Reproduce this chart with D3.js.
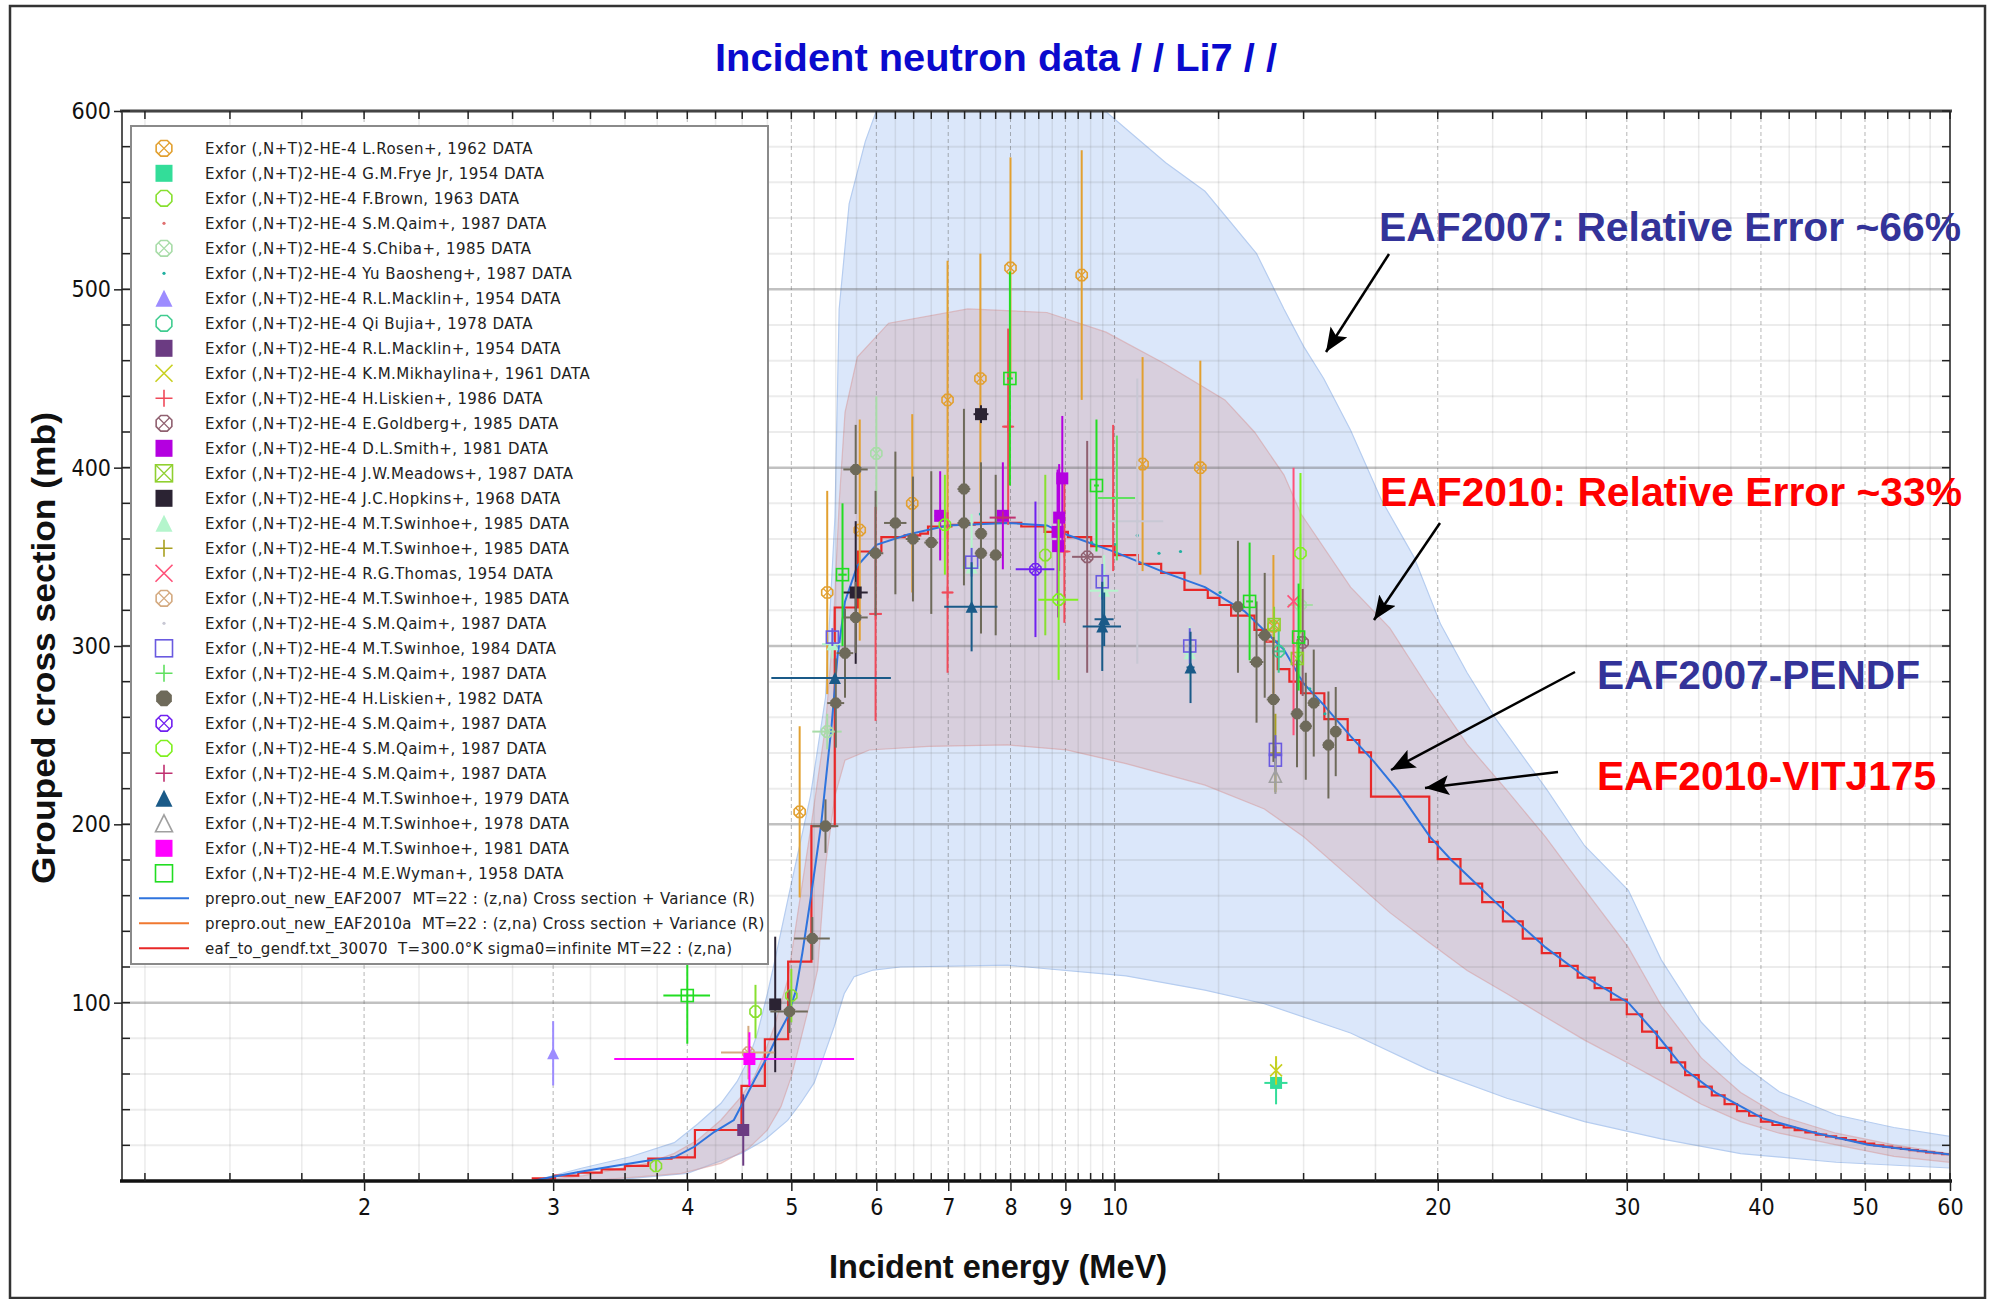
<!DOCTYPE html>
<html>
<head>
<meta charset="utf-8">
<script src="https://cdn.jsdelivr.net/npm/d3@7"></script>
<style>
  html, body { margin: 0; padding: 0; background: #fff; }
  svg { display: block; }
  .tick text { font-family: "Liberation Sans Narrow", "DejaVu Sans Condensed", "Liberation Sans", Arial, sans-serif; }
</style>
</head>
<body>
<svg id="chart" width="1993" height="1299"></svg>
<script>
// ---- axis ticks ----
const xTickValues = [2, 3, 4, 5, 6, 7, 8, 9, 10, 20, 30, 40, 50, 60];
const xMinorTicks = [1.25, 1.5, 1.75, 2.25, 2.5, 2.75, 3.25, 3.5, 3.75, 4.25, 4.5, 4.75,
  5.25, 5.5, 5.75, 6.25, 6.5, 6.75, 7.25, 7.5, 7.75, 8.25, 8.5, 8.75, 9.25, 9.5, 9.75,
  12.5, 15, 17.5, 22.5, 25, 27.5, 32.5, 35, 37.5, 42.5, 45, 47.5, 52.5, 55, 57.5];
const yTickValues = [100, 200, 300, 400, 500, 600];
const yMinorTicks = [20, 40, 60, 80, 120, 140, 160, 180, 220, 240, 260, 280, 320, 340, 360, 380,
  420, 440, 460, 480, 520, 540, 560, 580];

// ---- EAF2007 pointwise curve (MeV, mb) ----
const eaf2007 = [[2.87, 0], [3.0, 2.4], [3.18, 5.2], [3.42, 8.4], [3.67, 11.4], [3.89, 13.3], [4.06, 19.2],
  [4.24, 27.6], [4.42, 34.2], [4.52, 45.4], [4.62, 56.6], [4.75, 69.7], [4.85, 81], [4.96, 92], [5.05, 107],
  [5.12, 128], [5.21, 158], [5.33, 200], [5.45, 255], [5.52, 294], [5.61, 325], [5.76, 345], [6.0, 356.7],
  [6.42, 362.5], [6.99, 367.6], [7.95, 369], [8.65, 367.6], [9.02, 362.5], [10.0, 352.8], [11.16, 341],
  [12.14, 333], [13.21, 319.6], [14.38, 298], [15.0, 279], [15.66, 267], [16.59, 249.5], [17.45, 235],
  [18.35, 219], [19.67, 193], [20.59, 180], [22.0, 163.5], [23.18, 150.5], [25.2, 131], [27.4, 114.7],
  [30.1, 100], [32.0, 82], [33.96, 62.6], [36.3, 49.6], [40.2, 35], [45.1, 26.8], [50.3, 20.3], [60, 14.8]];

// ---- uncertainty bands ----
const band2007Upper = [[2.87, 0], [3.18, 7], [3.54, 13.6], [3.89, 21.5], [4.09, 32], [4.30, 43.6], [4.45, 55.7],
  [4.56, 68], [4.65, 83], [4.75, 105], [4.82, 122], [4.98, 162], [5.21, 216], [5.38, 271], [5.49, 372],
  [5.54, 489], [5.66, 548], [5.86, 583], [6.0, 600], [9.8, 600], [11.16, 571], [12.14, 555], [13.56, 520],
  [14.38, 489], [15.0, 468], [15.66, 450], [16.59, 421], [17.72, 382], [19.0, 350], [20.13, 312], [21.3, 285],
  [22.6, 260], [25.3, 219], [27.4, 188], [30.1, 163], [32.3, 124], [35.2, 89], [38.3, 66], [41.6, 50],
  [47, 37], [53.2, 30], [60, 25]];
const band2007Lower = [[2.87, 0], [3.49, 1], [4.0, 4.3], [4.24, 10], [4.49, 15.5], [4.72, 23], [4.96, 34],
  [5.10, 43.6], [5.25, 55], [5.36, 70], [5.48, 86.5], [5.60, 105], [5.72, 114.6], [5.96, 118.3], [6.32, 120],
  [7.95, 121], [10.25, 115], [12.14, 107], [13.79, 99.4], [16.59, 83], [19.58, 62.6], [23.2, 46.4],
  [27.4, 33.3], [32.3, 23.6], [38.3, 15.4], [47, 10.5], [60, 7.3]];
const band2010Upper = [[2.87, 0], [3.2, 3], [3.67, 9.9], [3.89, 15.5], [4.09, 23], [4.30, 34.2], [4.49, 47.3],
  [4.62, 58.5], [4.72, 71.6], [4.82, 86.5], [4.96, 112.7], [5.21, 197], [5.38, 255], [5.47, 310], [5.54, 380],
  [5.61, 431], [5.76, 462], [6.16, 481], [7.30, 489], [8.65, 487], [9.82, 476], [11.16, 458], [12.67, 438],
  [13.5, 420], [14.38, 396], [14.92, 374], [16.59, 333], [18.05, 310], [19.58, 277], [21.3, 245], [23.2, 219],
  [25.2, 193], [27.4, 163.5], [30.1, 131], [32.3, 98.4], [35.2, 69], [38.3, 49.6], [41.6, 36.6], [47, 26.8],
  [53.2, 20.3], [60, 15.4]];
const band2010Lower = [[2.87, 0], [3.3, 0.5], [3.95, 4.3], [4.30, 9.9], [4.56, 18.3], [4.75, 28.6], [4.89, 41.7],
  [5.0, 58.5], [5.10, 79], [5.22, 103.4], [5.29, 118.3], [5.38, 177], [5.49, 216], [5.61, 236], [5.91, 241.7],
  [6.71, 243.7], [7.95, 244.5], [9.02, 241.7], [10.25, 234], [12.14, 222], [13.79, 208.6], [15.0, 193],
  [16.59, 170], [18.05, 150.5], [19.58, 134.3], [21.3, 118], [23.2, 105], [25.2, 92], [27.4, 79], [30.1, 66],
  [32.3, 56], [35.2, 43], [38.3, 33.3], [41.6, 26.8], [47, 20.3], [53.2, 13.8], [60, 10.5]];

// ---- EAF2010 group-wise values (VITAMIN-J+ bounds, MeV / mb) ----
const groupBounds = [2.865, 3.012, 3.166, 3.329, 3.499, 3.679, 3.867, 4.066, 4.274, 4.493, 4.724, 4.966,
  5.220, 5.488, 5.769, 6.065, 6.376, 6.592, 6.703, 7.047, 7.408, 7.788, 8.187, 8.607, 9.048, 9.512, 10.0,
  10.513, 11.052, 11.618, 12.214, 12.523, 12.840, 13.499, 13.840, 14.191, 14.550, 14.918, 15.683, 16.487,
  16.905, 17.333, 19.640, 20, 21, 22, 23, 24, 25, 26, 27, 28, 29, 30, 31, 32, 33, 34, 35, 36, 37, 38, 39,
  40, 41, 42, 43, 44, 45, 46, 47, 48, 49, 50, 51, 52, 53, 54, 55, 56, 57, 58, 59, 60];
const groupXs = [1.5, 3.0, 4.7, 6.5, 8.5, 12.5, 13.3, 28.6, 28.6, 53.3, 79.5, 123, 199, 321.6, 353, 361, 362,
  363, 367, 368, 369, 369, 367, 364, 361, 356, 351, 346, 341, 331.5, 327, 323, 317, 309, 302.5, 287, 280,
  273.5, 259, 247.3, 240.4, 215.5, 190.2,
  180.5, 166.8, 156.4, 145.6, 135.9, 127.8, 120.6, 114, 108.2, 101.7,
  93.5, 83.8, 74.7, 66.5, 59.4, 52.9, 48, 43.1, 39.2, 36.6,
  33.3, 31.4, 30, 28.5, 27.3, 26, 25, 24, 23, 22,
  21, 20, 19.3, 18.6, 18, 17.3, 16.7, 16.1, 15.6, 15];

// ---- EXFOR points: [energy MeV, xs mb, dxs, dE] ----
const rosen1962 = [[5.09, 207, 48, 0], [5.40, 330, 57, 0], [5.79, 365, 62, 0], [6.48, 380, 50, 0], [6.99, 438, 78, 0],
  [7.50, 450, 70, 0], [8.00, 512, 62, 0], [9.32, 508, 70, 0], [10.62, 402, 60, 0], [12.02, 400, 60, 0], [14.06, 311, 40, 0]];
const frye1954 = [[14.14, 55, 12, 0.35]];
const brown1963 = [[3.74, 8.4, 3, 0], [4.63, 95, 15, 0], [5.0, 104, 15, 0], [8.62, 351, 45, 0]];
const qaimDots1 = [[13.9, 303, 0, 0], [8.9, 366, 0, 0]];
const chiba1985 = [[5.40, 252, 10, 0.17], [6.0, 408, 32, 0], [14.9, 323, 40, 0.4]];
const yu1987 = [[7.5, 374, 0, 0], [9.52, 358, 0, 0], [10.0, 357, 0, 0], [10.5, 362, 0, 0], [11.0, 352, 0, 0],
  [11.52, 353, 0, 0], [12.54, 330, 0, 0], [15.2, 276, 0, 0], [15.7, 262, 0, 0], [16.1, 250, 0, 0]];
const macklinTri1954 = [[3.0, 71.6, 18, 0]];
const qiBujia1978 = [[14.22, 297, 12, 0.2]];
const macklinSq1954 = [[4.51, 28.6, 20, 0]];
const mikhaylina1961 = [[14.14, 62, 8, 0]];
const liskien1986 = [[5.99, 318, 60, 0.08], [6.99, 330, 45, 0.08], [7.96, 423, 55, 0.08], [8.98, 353, 40, 0.08], [9.97, 383, 41, 0.08]];
const goldberg1985 = [[9.43, 350, 65, 0.3], [14.97, 302, 30, 0]];
const smith1981 = [[6.88, 373, 25, 0.08], [7.87, 373, 30, 0.1], [8.94, 394, 35, 0.1], [8.88, 372, 30, 0.08],
  [8.85, 364, 35, 0.08], [8.86, 356, 40, 0.08]];
const meadows1987 = [[14.08, 312, 10, 0], [14.8, 293, 10, 0]];
const hopkins1968 = [[4.83, 99, 38, 0.05], [5.74, 330, 40, 0.15], [7.51, 430, 5, 0.12]];
const swinhoeTri1985 = [[5.46, 301, 8, 0.12], [7.36, 344, 30, 0.15], [9.78, 331, 20, 0.3], [11.75, 296, 15, 0.15]];
const swinhoePlus1985 = [[14.12, 240, 22, 0]];
const thomas1954 = [[14.68, 325, 75, 0]];
const swinhoeCx1985 = [[4.56, 72, 15, 0.26]];
const qaimDots2 = [[10.5, 370, 80, 0.6]];
const swinhoe1984 = [[5.46, 305, 5, 0], [7.36, 347, 8, 0], [9.74, 336, 10, 0], [11.75, 300, 10, 0], [14.12, 242, 8, 0], [14.12, 236, 8, 0]];
const qaimPlusGreen = [[10.05, 383, 35, 0.4]];
const liskien1982 = [[4.98, 95, 12, 0.2], [5.23, 136, 12, 0.2], [5.38, 199, 15, 0.15], [5.50, 268, 25, 0.1],
  [5.61, 296, 25, 0.1], [5.74, 316, 20, 0.15], [5.74, 399, 25, 0.15], [5.99, 352, 35, 0.1], [6.25, 369, 40, 0.15],
  [6.49, 360, 35, 0.1], [6.75, 358, 40, 0.1], [7.24, 388, 45, 0.1], [7.24, 369, 35, 0.1], [7.51, 363, 40, 0.1],
  [7.51, 352, 45, 0.1], [7.75, 351, 45, 0.1], [13.03, 322, 37, 0.2], [13.56, 291, 34, 0.2], [13.80, 306, 35, 0.2],
  [14.06, 270, 35, 0.2], [14.79, 262, 30, 0.2], [15.07, 255, 30, 0.2], [15.33, 268, 30, 0.2], [15.82, 244.5, 30, 0.2],
  [16.07, 252, 25, 0.2]];
const qaimCx1987 = [[8.44, 343, 38, 0.35]];
const qaimOct1987 = [[6.95, 368, 28, 0], [8.87, 326, 45, 0.38], [14.9, 352, 45, 0]];
const qaimPlusPink = [[7.87, 372, 0, 0.22]];
const swinhoe1979 = [[5.49, 282, 0, 0.7], [7.36, 322, 25, 0.42], [9.74, 311, 25, 0.4], [9.78, 315, 15, 0.2], [11.77, 288, 20, 0.1]];
const swinhoe1978 = [[14.12, 227, 10, 0]];
const swinhoe1981 = [[4.57, 68.4, 15, 1.15]];
const wyman1958 = [[4.0, 104, 27, 0.2], [5.58, 340, 40, 0.05], [7.99, 450, 60, 0.05], [9.62, 390, 37, 0.05],
  [13.36, 325, 33, 0.1], [14.84, 305, 30, 0.05]];

const exforLabels = [
  'Exfor (,N+T)2-HE-4 L.Rosen+, 1962 DATA', 'Exfor (,N+T)2-HE-4 G.M.Frye Jr, 1954 DATA',
  'Exfor (,N+T)2-HE-4 F.Brown, 1963 DATA', 'Exfor (,N+T)2-HE-4 S.M.Qaim+, 1987 DATA',
  'Exfor (,N+T)2-HE-4 S.Chiba+, 1985 DATA', 'Exfor (,N+T)2-HE-4 Yu Baosheng+, 1987 DATA',
  'Exfor (,N+T)2-HE-4 R.L.Macklin+, 1954 DATA', 'Exfor (,N+T)2-HE-4 Qi Bujia+, 1978 DATA',
  'Exfor (,N+T)2-HE-4 R.L.Macklin+, 1954 DATA', 'Exfor (,N+T)2-HE-4 K.M.Mikhaylina+, 1961 DATA',
  'Exfor (,N+T)2-HE-4 H.Liskien+, 1986 DATA', 'Exfor (,N+T)2-HE-4 E.Goldberg+, 1985 DATA',
  'Exfor (,N+T)2-HE-4 D.L.Smith+, 1981 DATA', 'Exfor (,N+T)2-HE-4 J.W.Meadows+, 1987 DATA',
  'Exfor (,N+T)2-HE-4 J.C.Hopkins+, 1968 DATA', 'Exfor (,N+T)2-HE-4 M.T.Swinhoe+, 1985 DATA',
  'Exfor (,N+T)2-HE-4 M.T.Swinhoe+, 1985 DATA', 'Exfor (,N+T)2-HE-4 R.G.Thomas, 1954 DATA',
  'Exfor (,N+T)2-HE-4 M.T.Swinhoe+, 1985 DATA', 'Exfor (,N+T)2-HE-4 S.M.Qaim+, 1987 DATA',
  'Exfor (,N+T)2-HE-4 M.T.Swinhoe, 1984 DATA', 'Exfor (,N+T)2-HE-4 S.M.Qaim+, 1987 DATA',
  'Exfor (,N+T)2-HE-4 H.Liskien+, 1982 DATA', 'Exfor (,N+T)2-HE-4 S.M.Qaim+, 1987 DATA',
  'Exfor (,N+T)2-HE-4 S.M.Qaim+, 1987 DATA', 'Exfor (,N+T)2-HE-4 S.M.Qaim+, 1987 DATA',
  'Exfor (,N+T)2-HE-4 M.T.Swinhoe+, 1979 DATA', 'Exfor (,N+T)2-HE-4 M.T.Swinhoe+, 1978 DATA',
  'Exfor (,N+T)2-HE-4 M.T.Swinhoe+, 1981 DATA', 'Exfor (,N+T)2-HE-4 M.E.Wyman+, 1958 DATA'];
const exforSets = [rosen1962, frye1954, brown1963, qaimDots1, chiba1985, yu1987, macklinTri1954, qiBujia1978,
  macklinSq1954, mikhaylina1961, liskien1986, goldberg1985, smith1981, meadows1987, hopkins1968, swinhoeTri1985,
  swinhoePlus1985, thomas1954, swinhoeCx1985, qaimDots2, swinhoe1984, qaimPlusGreen, liskien1982, qaimCx1987,
  qaimOct1987, qaimPlusPink, swinhoe1979, swinhoe1978, swinhoe1981, wyman1958];
const lineLabels = [
  'prepro.out_new_EAF2007  MT=22 : (z,na) Cross section + Variance (R)',
  'prepro.out_new_EAF2010a  MT=22 : (z,na) Cross section + Variance (R)',
  'eaf_to_gendf.txt_30070  T=300.0\u00b0K sigma0=infinite MT=22 : (z,na)'];

// ---- styles ----
const exforShapes = ['octX', 'square', 'oct', 'dot', 'octX', 'dot', 'tri', 'oct', 'square', 'cross', 'plus', 'octX',
  'square', 'squareX', 'square', 'tri', 'plus', 'cross', 'octX', 'dot', 'squareOpen', 'plus', 'octFill', 'octX',
  'oct', 'plus', 'tri', 'triOpen', 'square', 'squareOpen'];
const exforColors = ['#e2a030', '#33dd99', '#88e030', '#e07070', '#a8dca8', '#20b0a0', '#9d8cff', '#40cc90',
  '#6b3b82', '#c8d020', '#f04a5a', '#906070', '#b400e0', '#90d030', '#2b2333', '#b4f5cc', '#a8a020', '#ff5078',
  '#d4aa80', '#c8c8d4', '#6a5ae0', '#60e060', '#6e6a5a', '#7020f0', '#80f020', '#c03070', '#1a5a88', '#a0a0a0',
  '#ff00ff', '#22dd22'];
const lineColors = ['#2f74de', '#f07830', '#e82828'];

const plot = { left: 122, right: 1950, top: 111, bottom: 1181 };
const svg = d3.select('#chart');
const x = d3.scaleLog().domain([1.19, 60]).range([plot.left, plot.right]);
const y = d3.scaleLinear().domain([0, 600]).range([plot.bottom, plot.top]);

// frame
svg.append('rect').attr('x', 10).attr('y', 6).attr('width', 1975).attr('height', 1292)
  .attr('fill', '#fff').attr('stroke', '#333').attr('stroke-width', 2.5);

svg.append('defs').append('clipPath').attr('id', 'plotClip')
  .append('rect').attr('x', plot.left).attr('y', plot.top)
  .attr('width', plot.right - plot.left).attr('height', plot.bottom - plot.top);

const inner = svg.append('g').attr('clip-path', 'url(#plotClip)');

// bands
const line = d3.line().x(d => x(d[0])).y(d => y(d[1]));
function band(upper, lower) {
  return line(upper.concat(lower.slice().reverse())) + 'Z';
}
inner.append('path').attr('d', band(band2007Upper, band2007Lower))
  .attr('fill', '#dbe7fa').attr('stroke', '#b6cdf0').attr('stroke-width', 1.2);
inner.append('path').attr('d', band(band2010Upper, band2010Lower))
  .attr('fill', 'rgba(212,165,170,0.36)').attr('stroke', 'rgba(215,150,150,0.5)').attr('stroke-width', 1.2);

// grid
const grid = inner.append('g');
grid.selectAll('.hmin').data(yMinorTicks).join('line')
  .attr('x1', plot.left).attr('x2', plot.right).attr('y1', d => y(d)).attr('y2', d => y(d))
  .attr('stroke', 'rgba(110,110,110,0.13)').attr('stroke-width', 2);
grid.selectAll('.hmaj').data(yTickValues).join('line')
  .attr('x1', plot.left).attr('x2', plot.right).attr('y1', d => y(d)).attr('y2', d => y(d))
  .attr('stroke', 'rgba(100,100,100,0.4)').attr('stroke-width', 2.5);
grid.selectAll('.vmin').data(xMinorTicks).join('line')
  .attr('y1', plot.top).attr('y2', plot.bottom).attr('x1', d => x(d)).attr('x2', d => x(d))
  .attr('stroke', 'rgba(110,110,110,0.14)').attr('stroke-width', 1.5);
grid.selectAll('.vmaj').data(xTickValues).join('line')
  .attr('y1', plot.top).attr('y2', plot.bottom).attr('x1', d => x(d)).attr('x2', d => x(d))
  .attr('stroke', 'rgba(90,90,90,0.45)').attr('stroke-width', 1).attr('stroke-dasharray', '4,3');

// EAF2010 group line
const groupPts = groupXs.map((v, i) => [groupBounds[i], v]);
groupPts.push([groupBounds[groupBounds.length - 1], groupXs[groupXs.length - 1]]);
inner.append('path').attr('d', d3.line().curve(d3.curveStepAfter).x(d => x(d[0])).y(d => y(d[1]))(groupPts))
  .attr('fill', 'none').attr('stroke', lineColors[2]).attr('stroke-width', 2.2);
// EAF2007 line
inner.append('path').attr('d', line(eaf2007))
  .attr('fill', 'none').attr('stroke', lineColors[0]).attr('stroke-width', 2);

// markers
function octPath(r) {
  const pts = d3.range(8).map(k => {
    const a = Math.PI / 8 + k * Math.PI / 4;
    return [(r * Math.cos(a)).toFixed(2), (r * Math.sin(a)).toFixed(2)];
  });
  return 'M' + pts.join('L') + 'Z';
}
function drawMarker(g, shape, color, s) {
  const h = s / 2;
  const sw = 1.6;
  if (shape === 'square') {
    g.append('rect').attr('x', -h).attr('y', -h).attr('width', s).attr('height', s).attr('fill', color);
  } else if (shape === 'squareOpen' || shape === 'squareX') {
    g.append('rect').attr('x', -h).attr('y', -h).attr('width', s).attr('height', s)
      .attr('fill', 'none').attr('stroke', color).attr('stroke-width', sw);
    if (shape === 'squareX') {
      g.append('path').attr('d', `M${-h},${-h}L${h},${h}M${-h},${h}L${h},${-h}`)
        .attr('stroke', color).attr('stroke-width', sw * 0.8);
    }
  } else if (shape === 'oct' || shape === 'octX') {
    g.append('path').attr('d', octPath(h)).attr('fill', 'none').attr('stroke', color).attr('stroke-width', sw);
    if (shape === 'octX') {
      const k = h * 0.68;
      g.append('path').attr('d', `M${-k},${-k}L${k},${k}M${-k},${k}L${k},${-k}`)
        .attr('stroke', color).attr('stroke-width', sw * 0.8);
    }
  } else if (shape === 'octFill') {
    g.append('path').attr('d', octPath(h)).attr('fill', color);
  } else if (shape === 'tri' || shape === 'triOpen') {
    const p = g.append('path').attr('d', `M0,${-h}L${h},${h}L${-h},${h}Z`);
    if (shape === 'tri') p.attr('fill', color);
    else p.attr('fill', 'none').attr('stroke', color).attr('stroke-width', sw);
  } else if (shape === 'plus') {
    g.append('path').attr('d', `M${-h},0H${h}M0,${-h}V${h}`).attr('stroke', color).attr('stroke-width', sw);
  } else if (shape === 'cross') {
    g.append('path').attr('d', `M${-h},${-h}L${h},${h}M${-h},${h}L${h},${-h}`)
      .attr('stroke', color).attr('stroke-width', sw);
  } else if (shape === 'dot') {
    g.append('circle').attr('r', 1.6).attr('fill', color);
  }
}

const pts = inner.append('g');
exforSets.forEach((set, i) => {
  const color = exforColors[i];
  const g = pts.append('g');
  set.forEach(d => {
    const [e, v, dv, de] = d;
    if (dv > 0) {
      g.append('line').attr('x1', x(e)).attr('x2', x(e)).attr('y1', y(v - dv)).attr('y2', y(v + dv))
        .attr('stroke', color).attr('stroke-width', 2);
    }
    if (de > 0) {
      g.append('line').attr('x1', x(e - de)).attr('x2', x(e + de)).attr('y1', y(v)).attr('y2', y(v))
        .attr('stroke', color).attr('stroke-width', 2);
    }
    const m = g.append('g').attr('transform', `translate(${x(e)},${y(v)})`);
    drawMarker(m, exforShapes[i], color, exforShapes[i] === 'octFill' ? 12 : 12);
  });
});

// axes frame lines
svg.append('line').attr('x1', plot.left).attr('x2', plot.left).attr('y1', plot.top).attr('y2', plot.bottom)
  .attr('stroke', '#555').attr('stroke-width', 2);
svg.append('line').attr('x1', plot.right).attr('x2', plot.right).attr('y1', plot.top).attr('y2', plot.bottom)
  .attr('stroke', '#555').attr('stroke-width', 2);
svg.append('line').attr('x1', plot.left - 2).attr('x2', plot.right + 2).attr('y1', plot.top).attr('y2', plot.top)
  .attr('stroke', '#444').attr('stroke-width', 3);
svg.append('line').attr('x1', plot.left - 2).attr('x2', plot.right + 2).attr('y1', plot.bottom).attr('y2', plot.bottom)
  .attr('stroke', '#111').attr('stroke-width', 3.5);

// tick marks
const tk = svg.append('g').attr('stroke', '#222').attr('stroke-width', 1.5);
const allX = xMinorTicks.concat(xTickValues);
tk.selectAll('.tb').data(allX).join('line')
  .attr('x1', d => x(d)).attr('x2', d => x(d)).attr('y1', plot.bottom).attr('y2', plot.bottom - 8);
tk.selectAll('.tt').data(allX).join('line')
  .attr('x1', d => x(d)).attr('x2', d => x(d)).attr('y1', plot.top).attr('y2', plot.top + 8);
const allY = yMinorTicks.concat(yTickValues);
tk.selectAll('.tl').data(allY).join('line')
  .attr('y1', d => y(d)).attr('y2', d => y(d)).attr('x1', plot.left).attr('x2', plot.left + 8);
tk.selectAll('.tr').data(allY).join('line')
  .attr('y1', d => y(d)).attr('y2', d => y(d)).attr('x1', plot.right).attr('x2', plot.right - 8);

// labelled axes
const xAxis = d3.axisBottom(x).tickValues(xTickValues).tickFormat(d3.format('d')).tickSize(10).tickPadding(8);
const gx = svg.append('g').attr('transform', `translate(0,${plot.bottom})`).call(xAxis);
gx.select('.domain').remove();
gx.selectAll('.tick line').attr('stroke', '#222').attr('stroke-width', 1.5);
gx.selectAll('.tick text').attr('font-size', 23).attr('fill', '#111');

const yAxis = d3.axisLeft(y).tickValues(yTickValues).tickSize(8).tickPadding(3);
const gy = svg.append('g').attr('transform', `translate(${plot.left},0)`).call(yAxis);
gy.select('.domain').remove();
gy.selectAll('.tick line').attr('stroke', '#222').attr('stroke-width', 1.5);
gy.selectAll('.tick text').attr('font-size', 23).attr('fill', '#111');

// legend
const lg = svg.append('g');
lg.append('rect').attr('x', 131).attr('y', 126).attr('width', 637).attr('height', 838)
  .attr('fill', '#fff').attr('stroke', '#8a8a8a').attr('stroke-width', 2);
const rowY = i => 148.3 + 25 * i;
exforLabels.forEach((lab, i) => {
  const m = lg.append('g').attr('transform', `translate(164,${rowY(i)})`);
  drawMarker(m, exforShapes[i], exforColors[i], 17);
  lg.append('text').attr('x', 205).attr('y', rowY(i) + 5.5).text(lab)
    .attr('font-family', 'DejaVu Sans, sans-serif').attr('font-size', 15).attr('letter-spacing', 0.45)
    .attr('fill', '#222');
});
lineLabels.forEach((lab, j) => {
  const i = exforLabels.length + j;
  lg.append('line').attr('x1', 139).attr('x2', 189).attr('y1', rowY(i)).attr('y2', rowY(i))
    .attr('stroke', lineColors[j]).attr('stroke-width', 2);
  lg.append('text').attr('x', 205).attr('y', rowY(i) + 5.5).text(lab)
    .style('white-space', 'pre')
    .attr('font-family', 'DejaVu Sans, sans-serif').attr('font-size', 15).attr('letter-spacing', 0.3)
    .attr('fill', '#222');
});

// titles
svg.append('text').attr('x', 996).attr('y', 71).attr('text-anchor', 'middle')
  .attr('font-family', 'Liberation Sans, Arial, sans-serif').attr('font-weight', 'bold').attr('font-size', 38)
  .attr('fill', '#0a0acd').attr('textLength', 562).attr('lengthAdjust', 'spacingAndGlyphs')
  .text('Incident neutron data / / Li7 / /');
svg.append('text').attr('x', 998).attr('y', 1278).attr('text-anchor', 'middle')
  .attr('font-family', 'Liberation Sans, Arial, sans-serif').attr('font-weight', 'bold').attr('font-size', 33)
  .attr('fill', '#111').attr('textLength', 338).attr('lengthAdjust', 'spacingAndGlyphs')
  .text('Incident energy (MeV)');
svg.append('text').attr('transform', 'translate(55,648) rotate(-90)').attr('text-anchor', 'middle')
  .attr('font-family', 'Liberation Sans, Arial, sans-serif').attr('font-weight', 'bold').attr('font-size', 33)
  .attr('fill', '#111').attr('textLength', 472).attr('lengthAdjust', 'spacingAndGlyphs')
  .text('Grouped cross section (mb)');

// annotations
const notes = [
  { t: 'EAF2007: Relative Error ~66%', x: 1379, y: 241, w: 582, c: '#333399' },
  { t: 'EAF2010: Relative Error ~33%', x: 1380, y: 506, w: 582, c: '#ff0000' },
  { t: 'EAF2007-PENDF', x: 1597, y: 689, w: 323, c: '#333399' },
  { t: 'EAF2010-VITJ175', x: 1597, y: 790, w: 339, c: '#ff0000' }];
notes.forEach(n => {
  svg.append('text').attr('x', n.x).attr('y', n.y).text(n.t)
    .attr('font-family', 'Liberation Sans, Arial, sans-serif').attr('font-weight', 'bold').attr('font-size', 40)
    .attr('fill', n.c).attr('textLength', n.w).attr('lengthAdjust', 'spacingAndGlyphs');
});
svg.select('defs').append('marker').attr('id', 'ah').attr('markerUnits', 'userSpaceOnUse')
  .attr('markerWidth', 26).attr('markerHeight', 20).attr('refX', 24).attr('refY', 10).attr('orient', 'auto')
  .append('path').attr('d', 'M0,0L24,10L0,20L5,10Z').attr('fill', '#000');
const arrows = [[1389, 254, 1326, 352], [1440, 523, 1374, 620], [1575, 672, 1391, 770], [1558, 772, 1425, 788]];
arrows.forEach(a => {
  svg.append('line').attr('x1', a[0]).attr('y1', a[1]).attr('x2', a[2]).attr('y2', a[3])
    .attr('stroke', '#000').attr('stroke-width', 2.5).attr('marker-end', 'url(#ah)');
});
</script>
</body>
</html>
